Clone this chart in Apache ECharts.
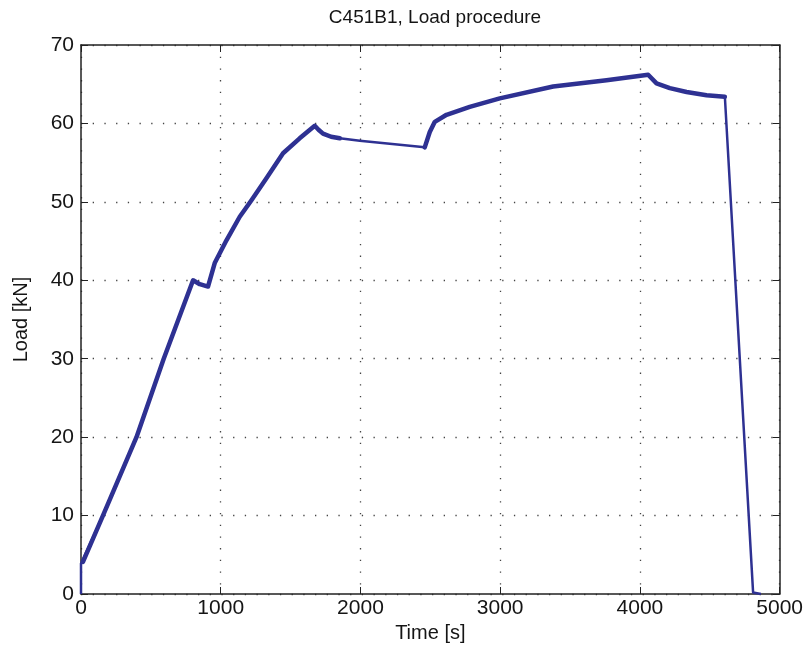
<!DOCTYPE html>
<html>
<head>
<meta charset="utf-8">
<script src="https://cdn.jsdelivr.net/npm/echarts@6/dist/echarts.min.js"></script>
<style>
html,body{margin:0;padding:0;background:#fff;}
#c{width:806px;height:661px;}
</style>
</head>
<body>
<div id="c"></div>
<script>
var timeS = [0, 0, 14, 157, 397, 592, 802, 850, 909, 957, 1041, 1136, 1220, 1327, 1446, 1565, 1673, 1700, 1732, 1790, 1852, 1995, 2460, 2496, 2532, 2616, 2782, 2997, 3379, 3761, 4059, 4071, 4119, 4214, 4334, 4477, 4608, 4810, 4866];
var loadKN = [0, 3.9, 4.1, 10.0, 20.0, 30.0, 40.0, 39.5, 39.2, 42.2, 45.1, 48.1, 50.2, 53.0, 56.2, 58.1, 59.7, 59.2, 58.7, 58.3, 58.1, 57.8, 56.95, 58.9, 60.2, 61.1, 62.1, 63.2, 64.7, 65.5, 66.2, 66.3, 65.1, 64.5, 64.0, 63.6, 63.4, 0.2, 0];
var noisyRanges = [[14, 1852], [2460, 4608]];
var xTicks = [0, 1000, 2000, 3000, 4000, 5000];
var yTicks = [0, 10, 20, 30, 40, 50, 60, 70];

var pts = timeS.map(function(t, i){ return [t, loadKN[i]]; });
var bandPts = timeS.map(function(t, i){
  for (var k = 0; k < noisyRanges.length; k++) {
    if (t >= noisyRanges[k][0] && t <= noisyRanges[k][1]) return [t, loadKN[i]];
  }
  return [t, null];
});
var font = "'Liberation Sans', Arial, Helvetica, sans-serif";
var txt = '#151515';
var chart = echarts.init(document.getElementById('c'));
var fmt = function(v){ return String(v); };
chart.setOption({
  animation: false,
  backgroundColor: '#fff',
  title: {
    text: 'C451B1, Load procedure',
    left: 430, top: 3, textAlign: 'center',
    textStyle: {fontFamily: font, fontSize: 19, fontWeight: 'normal', color: txt}
  },
  grid: {left: 81, right: 26, top: 45, bottom: 67},
  xAxis: [{
    type: 'value', min: xTicks[0], max: xTicks[xTicks.length-1], interval: 1000,
    name: 'Time [s]', nameLocation: 'middle', nameGap: 25,
    nameTextStyle: {fontFamily: font, fontSize: 20, color: txt},
    axisLine: {show: true, onZero: false, lineStyle: {color: '#222', width: 1.5}},
    axisTick: {show: true, inside: true, length: 7, lineStyle: {color: '#222', width: 1}},
    axisLabel: {fontFamily: font, fontSize: 21, color: txt, margin: 4, formatter: fmt},
    splitLine: {show: true, lineStyle: {color: '#444', width: 1.3, type: [1.3, 10.4]}}
  }, {
    type: 'value', position: 'top', min: 0, max: 5000, interval: 1000,
    axisLine: {show: true, onZero: false, lineStyle: {color: '#222', width: 1.5}},
    axisTick: {show: true, inside: true, length: 7, lineStyle: {color: '#222', width: 1}},
    axisLabel: {show: false}, splitLine: {show: false}
  }],
  yAxis: [{
    type: 'value', min: yTicks[0], max: yTicks[yTicks.length-1], interval: 10,
    name: 'Load [kN]', nameLocation: 'middle', nameGap: 50, nameRotate: 90,
    nameTextStyle: {fontFamily: font, fontSize: 20, color: txt},
    axisLine: {show: true, onZero: false, lineStyle: {color: '#222', width: 1.5}},
    axisTick: {show: true, inside: true, length: 7, lineStyle: {color: '#222', width: 1}},
    axisLabel: {fontFamily: font, fontSize: 21, color: txt, margin: 7, formatter: fmt},
    splitLine: {show: true, lineStyle: {color: '#444', width: 1.3, type: [1.3, 10.4]}}
  }, {
    type: 'value', position: 'right', min: 0, max: 70, interval: 10,
    axisLine: {show: true, onZero: false, lineStyle: {color: '#222', width: 1.5}},
    axisTick: {show: true, inside: true, length: 7, lineStyle: {color: '#222', width: 1}},
    axisLabel: {show: false}, splitLine: {show: false}
  }],
  series: [{
    type: 'line', xAxisIndex: 0, yAxisIndex: 0,
    data: pts, showSymbol: false, smooth: false,
    lineStyle: {color: '#2e3192', width: 2.5, join: 'round'},
    itemStyle: {color: '#2e3192'}
  }, {
    type: 'line', xAxisIndex: 0, yAxisIndex: 0,
    data: bandPts, showSymbol: false, smooth: false, connectNulls: false,
    lineStyle: {color: '#2e3192', width: 4.5, join: 'round', cap: 'round'},
    itemStyle: {color: '#2e3192'}
  }]
});
</script>
</body>
</html>
